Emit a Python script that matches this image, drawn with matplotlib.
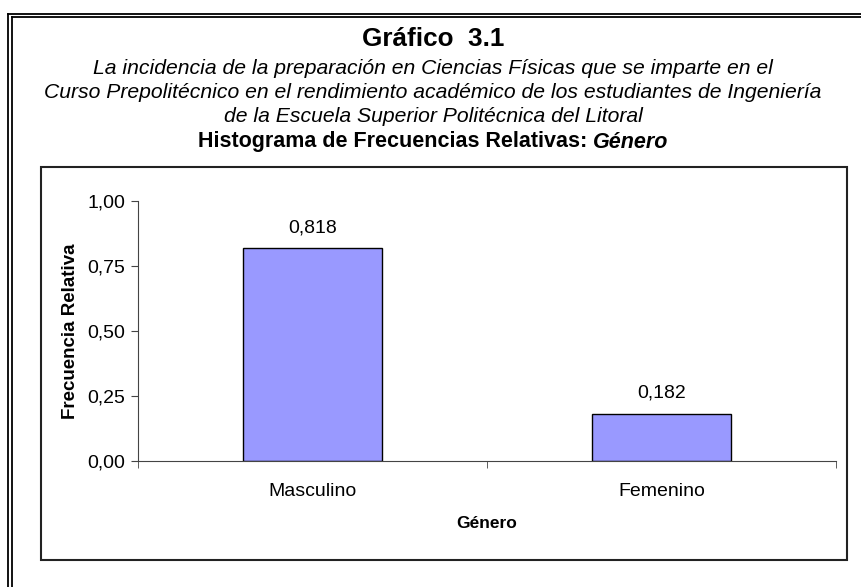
import matplotlib.pyplot as plt
from matplotlib.lines import Line2D
from matplotlib.patches import Rectangle

plt.rcParams['font.family'] = ['Liberation Sans', 'DejaVu Sans']

# Data
categories = ['Masculino', 'Femenino']
frecuencias = [0.818, 0.182]
etiquetas = ['0,818', '0,182']
y_ticks = [0.0, 0.25, 0.5, 0.75, 1.0]
y_tick_labels = ['0,00', '0,25', '0,50', '0,75', '1,00']

W, H = 861, 587
fig = plt.figure(figsize=(W / 100, H / 100), dpi=100)

def fx(px):
    return px / W

def fy(py):
    return 1 - py / H

# Outer double frame (right and bottom run off the page)
for xo, yo in ((7.5, 13.5), (11.5, 17)):
    fig.add_artist(Line2D([fx(xo), fx(xo)], [fy(yo), fy(H + 10)],
                          color='black', lw=1.3, transform=fig.transFigure))
    fig.add_artist(Line2D([fx(xo), fx(W + 10)], [fy(yo), fy(yo)],
                          color='black', lw=1.3, transform=fig.transFigure))

# Inner chart box
fig.add_artist(Rectangle((fx(41), fy(560)), fx(847) - fx(41), fy(167) - fy(560),
                         fill=False, edgecolor='#222222', lw=1.5,
                         transform=fig.transFigure))

# Titles
cx = fx(433)
fig.text(cx, fy(39), 'Gráfico  3.1', ha='center', va='center',
         fontsize=18.8, fontweight='bold')
lineas = ['La incidencia de la preparación en Ciencias Físicas que se imparte en el',
          'Curso Prepolitécnico en el rendimiento académico de los estudiantes de Ingeniería',
          'de la Escuela Superior Politécnica del Litoral']
for i, t in enumerate(lineas):
    fig.text(cx, fy(68 + 24.5 * i), t, ha='center', va='center',
             fontsize=15.2, style='italic')

# Subtitle with bold-italic word
fig.canvas.draw()
r = fig.canvas.get_renderer()
t1 = fig.text(0, fy(142), 'Histograma de Frecuencias Relativas: ', ha='left',
              va='center', fontsize=15.5, fontweight='bold')
t2 = fig.text(0, fy(142), 'Género', ha='left', va='center', fontsize=15.5,
              fontweight='bold', style='italic')
w1 = t1.get_window_extent(r).width
w2 = t2.get_window_extent(r).width
x0 = 433 - (w1 + w2) / 2
t1.set_x(fx(x0))
t2.set_x(fx(x0 + w1))

# Axes
ax = fig.add_axes([fx(138), fy(461), fx(836) - fx(138), fy(201) - fy(461)])
x = range(len(categories))
bars = ax.bar(x, frecuencias, width=0.4, color='#9999FF', edgecolor='black',
              linewidth=1)
for b, lab in zip(bars, etiquetas):
    ax.text(b.get_x() + b.get_width() / 2, b.get_height() + 0.045, lab,
            ha='center', va='bottom', fontsize=14)

ax.set_xlim(-0.5, 1.5)
ax.set_ylim(0, 1)
ax.set_xticks(list(x))
ax.set_xticklabels(categories, fontsize=14)
ax.set_xticks([-0.5, 0.5, 1.5], minor=True)
ax.tick_params(axis='x', which='major', length=0, pad=16)
ax.tick_params(axis='x', which='minor', length=5, direction='out', color='#444444')
ax.set_yticks(y_ticks)
ax.set_yticklabels(y_tick_labels, fontsize=14)
ax.tick_params(axis='y', length=5, direction='out', color='#444444', pad=4)

for s in ('top', 'right'):
    ax.spines[s].set_visible(False)
ax.spines['left'].set_color('#444444')
ax.spines['bottom'].set_color('#444444')

ax.set_xlabel('Género', fontsize=12.5, fontweight='bold', labelpad=11)
ax.set_ylabel('Frecuencia Relativa', fontsize=13.5, fontweight='bold', labelpad=6)

fig.savefig('out.png', dpi=100)
